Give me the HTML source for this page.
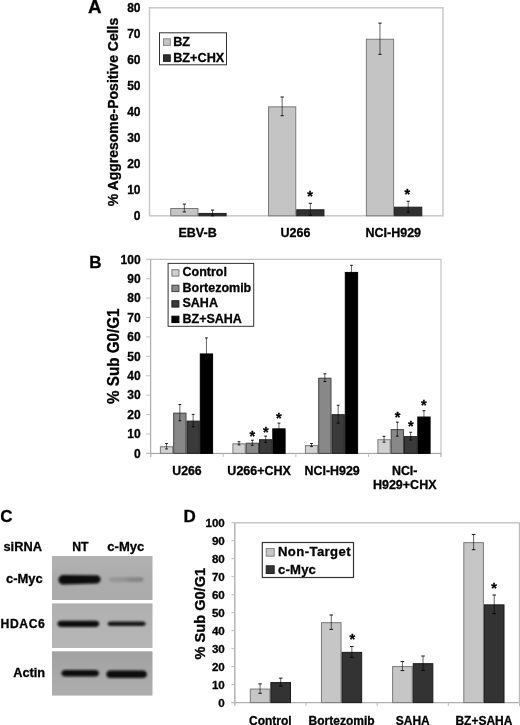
<!DOCTYPE html>
<html><head><meta charset="utf-8"><style>
html,body{margin:0;padding:0;background:#fff;overflow:hidden}
svg{display:block;will-change:transform}
text{stroke:#000;stroke-width:0.3px;paint-order:stroke}
</style></head><body>
<svg width="520" height="725" viewBox="0 0 520 725" font-family="Liberation Sans, sans-serif" font-weight="bold" fill="#000">
<rect width="520" height="725" fill="#fff"/>
<text x="88.0" y="12.6" font-size="18.8" text-anchor="start" >A</text>
<rect x="149.50" y="7.80" width="293.50" height="208.00" fill="none" stroke="#c9c9c9" stroke-width="1.5"/>
<text x="140.5" y="220.10000000000002" font-size="12" text-anchor="end" >0</text>
<text x="140.5" y="194.10000000000002" font-size="12" text-anchor="end" >10</text>
<text x="140.5" y="168.10000000000002" font-size="12" text-anchor="end" >20</text>
<text x="140.5" y="142.10000000000002" font-size="12" text-anchor="end" >30</text>
<text x="140.5" y="116.10000000000001" font-size="12" text-anchor="end" >40</text>
<text x="140.5" y="90.10000000000001" font-size="12" text-anchor="end" >50</text>
<text x="140.5" y="64.10000000000001" font-size="12" text-anchor="end" >60</text>
<text x="140.5" y="38.10000000000001" font-size="12" text-anchor="end" >70</text>
<text x="140.5" y="12.100000000000012" font-size="12" text-anchor="end" >80</text>
<rect x="170.72" y="208.50" width="27.20" height="7.30" fill="#c4c4c4" stroke="#7a7a7a" stroke-width="1"/>
<line x1="184.32" y1="204.10" x2="184.32" y2="211.90" stroke="#000" stroke-width="0.6"/>
<line x1="182.72" y1="204.10" x2="185.92" y2="204.10" stroke="#000" stroke-width="0.9"/>
<line x1="182.72" y1="211.90" x2="185.92" y2="211.90" stroke="#000" stroke-width="0.9"/>
<rect x="198.92" y="213.44" width="27.20" height="2.36" fill="#303030" stroke="#202020" stroke-width="1"/>
<line x1="212.52" y1="210.08" x2="212.52" y2="215.80" stroke="#000" stroke-width="0.6"/>
<line x1="210.92" y1="210.08" x2="214.12" y2="210.08" stroke="#000" stroke-width="0.9"/>
<line x1="210.92" y1="215.80" x2="214.12" y2="215.80" stroke="#000" stroke-width="0.9"/>
<rect x="268.55" y="106.84" width="27.20" height="108.96" fill="#c4c4c4" stroke="#7a7a7a" stroke-width="1"/>
<line x1="282.15" y1="96.98" x2="282.15" y2="115.70" stroke="#000" stroke-width="0.6"/>
<line x1="280.55" y1="96.98" x2="283.75" y2="96.98" stroke="#000" stroke-width="0.9"/>
<line x1="280.55" y1="115.70" x2="283.75" y2="115.70" stroke="#000" stroke-width="0.9"/>
<rect x="296.75" y="209.80" width="27.20" height="6.00" fill="#303030" stroke="#202020" stroke-width="1"/>
<line x1="310.35" y1="203.32" x2="310.35" y2="215.28" stroke="#000" stroke-width="0.6"/>
<line x1="308.75" y1="203.32" x2="311.95" y2="203.32" stroke="#000" stroke-width="0.9"/>
<line x1="308.75" y1="215.28" x2="311.95" y2="215.28" stroke="#000" stroke-width="0.9"/>
<rect x="366.38" y="39.24" width="27.20" height="176.56" fill="#c4c4c4" stroke="#7a7a7a" stroke-width="1"/>
<line x1="379.98" y1="23.14" x2="379.98" y2="54.34" stroke="#000" stroke-width="0.6"/>
<line x1="378.38" y1="23.14" x2="381.58" y2="23.14" stroke="#000" stroke-width="0.9"/>
<line x1="378.38" y1="54.34" x2="381.58" y2="54.34" stroke="#000" stroke-width="0.9"/>
<rect x="394.58" y="207.20" width="27.20" height="8.60" fill="#303030" stroke="#202020" stroke-width="1"/>
<line x1="408.18" y1="201.24" x2="408.18" y2="212.16" stroke="#000" stroke-width="0.6"/>
<line x1="406.58" y1="201.24" x2="409.78" y2="201.24" stroke="#000" stroke-width="0.9"/>
<line x1="406.58" y1="212.16" x2="409.78" y2="212.16" stroke="#000" stroke-width="0.9"/>
<text x="310.20" y="200.86" font-size="14.5" text-anchor="middle">*</text>
<text x="407.30" y="198.86" font-size="14.5" text-anchor="middle">*</text>
<rect x="159.50" y="32.80" width="67.00" height="32.00" fill="white" stroke="#333" stroke-width="1"/>
<rect x="163.50" y="38.80" width="6.80" height="6.60" fill="#c4c4c4" stroke="#888" stroke-width="1"/>
<rect x="163.50" y="54.80" width="6.80" height="6.60" fill="#303030" stroke="#222" stroke-width="1"/>
<text x="173.2" y="45.9" font-size="12.7" text-anchor="start" >BZ</text>
<text x="173.2" y="61.9" font-size="12.7" text-anchor="start" >BZ+CHX</text>
<text x="0" y="0" font-size="14" text-anchor="middle" transform="translate(117.8,112) rotate(-90)">% Aggresome-Positive Cells</text>
<text x="197.61666666666665" y="236.6" font-size="12.5" text-anchor="middle" >EBV-B</text>
<text x="295.45" y="236.6" font-size="12.5" text-anchor="middle" >U266</text>
<text x="393.2833333333333" y="236.6" font-size="12.5" text-anchor="middle" >NCI-H929</text>
<text x="89.2" y="268.1" font-size="17" text-anchor="start" >B</text>
<line x1="150.70" y1="259.30" x2="441.00" y2="259.30" stroke="#c4c4c4" stroke-width="1.2"/>
<line x1="441.00" y1="259.30" x2="441.00" y2="456.90" stroke="#c4c4c4" stroke-width="1.2"/>
<line x1="146.30" y1="453.40" x2="441.00" y2="453.40" stroke="#9a9a9a" stroke-width="1.0"/>
<line x1="150.70" y1="259.30" x2="150.70" y2="456.90" stroke="#9a9a9a" stroke-width="1.0"/>
<line x1="146.30" y1="453.40" x2="150.70" y2="453.40" stroke="#bdbdbd" stroke-width="1"/>
<text x="140.6" y="457.7" font-size="12" text-anchor="end" >0</text>
<line x1="146.30" y1="433.99" x2="150.70" y2="433.99" stroke="#bdbdbd" stroke-width="1"/>
<text x="140.6" y="438.29" font-size="12" text-anchor="end" >10</text>
<line x1="146.30" y1="414.58" x2="150.70" y2="414.58" stroke="#bdbdbd" stroke-width="1"/>
<text x="140.6" y="418.88" font-size="12" text-anchor="end" >20</text>
<line x1="146.30" y1="395.17" x2="150.70" y2="395.17" stroke="#bdbdbd" stroke-width="1"/>
<text x="140.6" y="399.46999999999997" font-size="12" text-anchor="end" >30</text>
<line x1="146.30" y1="375.76" x2="150.70" y2="375.76" stroke="#bdbdbd" stroke-width="1"/>
<text x="140.6" y="380.06" font-size="12" text-anchor="end" >40</text>
<line x1="146.30" y1="356.35" x2="150.70" y2="356.35" stroke="#bdbdbd" stroke-width="1"/>
<text x="140.6" y="360.65000000000003" font-size="12" text-anchor="end" >50</text>
<line x1="146.30" y1="336.94" x2="150.70" y2="336.94" stroke="#bdbdbd" stroke-width="1"/>
<text x="140.6" y="341.24" font-size="12" text-anchor="end" >60</text>
<line x1="146.30" y1="317.53" x2="150.70" y2="317.53" stroke="#bdbdbd" stroke-width="1"/>
<text x="140.6" y="321.83" font-size="12" text-anchor="end" >70</text>
<line x1="146.30" y1="298.12" x2="150.70" y2="298.12" stroke="#bdbdbd" stroke-width="1"/>
<text x="140.6" y="302.42" font-size="12" text-anchor="end" >80</text>
<line x1="146.30" y1="278.71" x2="150.70" y2="278.71" stroke="#bdbdbd" stroke-width="1"/>
<text x="140.6" y="283.01000000000005" font-size="12" text-anchor="end" >90</text>
<line x1="146.30" y1="259.30" x2="150.70" y2="259.30" stroke="#bdbdbd" stroke-width="1"/>
<text x="140.6" y="263.6" font-size="12" text-anchor="end" >100</text>
<line x1="150.70" y1="453.40" x2="150.70" y2="456.90" stroke="#bdbdbd" stroke-width="1"/>
<line x1="223.27" y1="453.40" x2="223.27" y2="456.90" stroke="#bdbdbd" stroke-width="1"/>
<line x1="295.85" y1="453.40" x2="295.85" y2="456.90" stroke="#bdbdbd" stroke-width="1"/>
<line x1="368.43" y1="453.40" x2="368.43" y2="456.90" stroke="#bdbdbd" stroke-width="1"/>
<line x1="441.00" y1="453.40" x2="441.00" y2="456.90" stroke="#bdbdbd" stroke-width="1"/>
<rect x="160.40" y="446.72" width="12.30" height="6.68" fill="#d0d0d0" stroke="#7a7a7a" stroke-width="1"/>
<line x1="166.55" y1="443.50" x2="166.55" y2="448.94" stroke="#000" stroke-width="0.6"/>
<line x1="165.15" y1="443.50" x2="167.95" y2="443.50" stroke="#000" stroke-width="0.9"/>
<line x1="165.15" y1="448.94" x2="167.95" y2="448.94" stroke="#000" stroke-width="0.9"/>
<rect x="173.70" y="413.14" width="12.30" height="40.26" fill="#888888" stroke="#444" stroke-width="1"/>
<line x1="179.85" y1="404.49" x2="179.85" y2="420.79" stroke="#000" stroke-width="0.6"/>
<line x1="178.45" y1="404.49" x2="181.25" y2="404.49" stroke="#000" stroke-width="0.9"/>
<line x1="178.45" y1="420.79" x2="181.25" y2="420.79" stroke="#000" stroke-width="0.9"/>
<rect x="187.00" y="421.10" width="12.30" height="32.30" fill="#3a3a3a" stroke="#222" stroke-width="1"/>
<line x1="193.15" y1="414.39" x2="193.15" y2="426.81" stroke="#000" stroke-width="0.6"/>
<line x1="191.75" y1="414.39" x2="194.55" y2="414.39" stroke="#000" stroke-width="0.9"/>
<line x1="191.75" y1="426.81" x2="194.55" y2="426.81" stroke="#000" stroke-width="0.9"/>
<rect x="200.30" y="353.94" width="12.30" height="99.46" fill="#000000" stroke="#000" stroke-width="1"/>
<line x1="206.45" y1="337.91" x2="206.45" y2="368.97" stroke="#000" stroke-width="0.6"/>
<line x1="205.05" y1="337.91" x2="207.85" y2="337.91" stroke="#000" stroke-width="0.9"/>
<line x1="205.05" y1="368.97" x2="207.85" y2="368.97" stroke="#000" stroke-width="0.9"/>
<rect x="232.90" y="443.81" width="12.30" height="9.59" fill="#d0d0d0" stroke="#7a7a7a" stroke-width="1"/>
<line x1="239.05" y1="441.75" x2="239.05" y2="444.86" stroke="#000" stroke-width="0.6"/>
<line x1="237.65" y1="441.75" x2="240.45" y2="441.75" stroke="#000" stroke-width="0.9"/>
<line x1="237.65" y1="444.86" x2="240.45" y2="444.86" stroke="#000" stroke-width="0.9"/>
<rect x="246.20" y="443.22" width="12.30" height="10.18" fill="#888888" stroke="#444" stroke-width="1"/>
<line x1="252.35" y1="440.20" x2="252.35" y2="445.25" stroke="#000" stroke-width="0.6"/>
<line x1="250.95" y1="440.20" x2="253.75" y2="440.20" stroke="#000" stroke-width="0.9"/>
<line x1="250.95" y1="445.25" x2="253.75" y2="445.25" stroke="#000" stroke-width="0.9"/>
<rect x="259.50" y="439.73" width="12.30" height="13.67" fill="#3a3a3a" stroke="#222" stroke-width="1"/>
<line x1="265.65" y1="436.13" x2="265.65" y2="442.34" stroke="#000" stroke-width="0.6"/>
<line x1="264.25" y1="436.13" x2="267.05" y2="436.13" stroke="#000" stroke-width="0.9"/>
<line x1="264.25" y1="442.34" x2="267.05" y2="442.34" stroke="#000" stroke-width="0.9"/>
<rect x="272.80" y="428.86" width="12.30" height="24.54" fill="#000000" stroke="#000" stroke-width="1"/>
<line x1="278.95" y1="423.12" x2="278.95" y2="433.60" stroke="#000" stroke-width="0.6"/>
<line x1="277.55" y1="423.12" x2="280.35" y2="423.12" stroke="#000" stroke-width="0.9"/>
<line x1="277.55" y1="433.60" x2="280.35" y2="433.60" stroke="#000" stroke-width="0.9"/>
<rect x="305.40" y="445.55" width="12.30" height="7.85" fill="#d0d0d0" stroke="#7a7a7a" stroke-width="1"/>
<line x1="311.55" y1="443.50" x2="311.55" y2="446.61" stroke="#000" stroke-width="0.6"/>
<line x1="310.15" y1="443.50" x2="312.95" y2="443.50" stroke="#000" stroke-width="0.9"/>
<line x1="310.15" y1="446.61" x2="312.95" y2="446.61" stroke="#000" stroke-width="0.9"/>
<rect x="318.70" y="378.20" width="12.30" height="75.20" fill="#888888" stroke="#444" stroke-width="1"/>
<line x1="324.85" y1="373.82" x2="324.85" y2="381.58" stroke="#000" stroke-width="0.6"/>
<line x1="323.45" y1="373.82" x2="326.25" y2="373.82" stroke="#000" stroke-width="0.9"/>
<line x1="323.45" y1="381.58" x2="326.25" y2="381.58" stroke="#000" stroke-width="0.9"/>
<rect x="332.00" y="414.69" width="12.30" height="38.71" fill="#3a3a3a" stroke="#222" stroke-width="1"/>
<line x1="338.15" y1="405.26" x2="338.15" y2="423.12" stroke="#000" stroke-width="0.6"/>
<line x1="336.75" y1="405.26" x2="339.55" y2="405.26" stroke="#000" stroke-width="0.9"/>
<line x1="336.75" y1="423.12" x2="339.55" y2="423.12" stroke="#000" stroke-width="0.9"/>
<rect x="345.30" y="272.42" width="12.30" height="180.98" fill="#000000" stroke="#000" stroke-width="1"/>
<line x1="351.45" y1="265.32" x2="351.45" y2="278.52" stroke="#000" stroke-width="0.6"/>
<line x1="350.05" y1="265.32" x2="352.85" y2="265.32" stroke="#000" stroke-width="0.9"/>
<line x1="350.05" y1="278.52" x2="352.85" y2="278.52" stroke="#000" stroke-width="0.9"/>
<rect x="377.90" y="439.73" width="12.30" height="13.67" fill="#d0d0d0" stroke="#7a7a7a" stroke-width="1"/>
<line x1="384.05" y1="436.32" x2="384.05" y2="442.14" stroke="#000" stroke-width="0.6"/>
<line x1="382.65" y1="436.32" x2="385.45" y2="436.32" stroke="#000" stroke-width="0.9"/>
<line x1="382.65" y1="442.14" x2="385.45" y2="442.14" stroke="#000" stroke-width="0.9"/>
<rect x="391.20" y="429.64" width="12.30" height="23.76" fill="#888888" stroke="#444" stroke-width="1"/>
<line x1="397.35" y1="422.15" x2="397.35" y2="436.13" stroke="#000" stroke-width="0.6"/>
<line x1="395.95" y1="422.15" x2="398.75" y2="422.15" stroke="#000" stroke-width="0.9"/>
<line x1="395.95" y1="436.13" x2="398.75" y2="436.13" stroke="#000" stroke-width="0.9"/>
<rect x="404.50" y="436.63" width="12.30" height="16.77" fill="#3a3a3a" stroke="#222" stroke-width="1"/>
<line x1="410.65" y1="432.24" x2="410.65" y2="440.01" stroke="#000" stroke-width="0.6"/>
<line x1="409.25" y1="432.24" x2="412.05" y2="432.24" stroke="#000" stroke-width="0.9"/>
<line x1="409.25" y1="440.01" x2="412.05" y2="440.01" stroke="#000" stroke-width="0.9"/>
<rect x="417.80" y="417.02" width="12.30" height="36.38" fill="#000000" stroke="#000" stroke-width="1"/>
<line x1="423.95" y1="410.70" x2="423.95" y2="422.34" stroke="#000" stroke-width="0.6"/>
<line x1="422.55" y1="410.70" x2="425.35" y2="410.70" stroke="#000" stroke-width="0.9"/>
<line x1="422.55" y1="422.34" x2="425.35" y2="422.34" stroke="#000" stroke-width="0.9"/>
<text x="252.30" y="440.96" font-size="14.5" text-anchor="middle">*</text>
<text x="265.80" y="437.26" font-size="14.5" text-anchor="middle">*</text>
<text x="278.80" y="423.26" font-size="14.5" text-anchor="middle">*</text>
<text x="397.60" y="422.16" font-size="14.5" text-anchor="middle">*</text>
<text x="410.80" y="431.36" font-size="14.5" text-anchor="middle">*</text>
<text x="423.80" y="410.06" font-size="14.5" text-anchor="middle">*</text>
<rect x="168.10" y="263.40" width="85.60" height="62.90" fill="white" stroke="#333" stroke-width="1"/>
<rect x="171.90" y="269.70" width="7.00" height="6.40" fill="#d0d0d0" stroke="#7a7a7a" stroke-width="1"/>
<text x="182.5" y="276.3" font-size="12.5" text-anchor="start" >Control</text>
<rect x="171.90" y="285.20" width="7.00" height="6.40" fill="#888888" stroke="#444" stroke-width="1"/>
<text x="182.5" y="291.8" font-size="12.5" text-anchor="start" >Bortezomib</text>
<rect x="171.90" y="300.70" width="7.00" height="6.40" fill="#3a3a3a" stroke="#222" stroke-width="1"/>
<text x="182.5" y="307.3" font-size="12.5" text-anchor="start" >SAHA</text>
<rect x="171.90" y="316.20" width="7.00" height="6.40" fill="#000000" stroke="#000" stroke-width="1"/>
<text x="182.5" y="322.8" font-size="12.5" text-anchor="start" >BZ+SAHA</text>
<text x="0" y="0" font-size="15.2" text-anchor="middle" transform="translate(118.5,356.2) rotate(-90) scale(1,1.05)">% Sub G0/G1</text>
<text x="186.98749999999998" y="474.6" font-size="12.3" text-anchor="middle" >U266</text>
<text x="259.1625" y="474.6" font-size="12.5" text-anchor="middle" >U266+CHX</text>
<text x="332.1375" y="474.6" font-size="12.4" text-anchor="middle" >NCI-H929</text>
<text x="404.7125" y="474.6" font-size="12.4" text-anchor="middle" >NCI-</text>
<text x="404.7125" y="488.8" font-size="12.5" text-anchor="middle" >H929+CHX</text>
<text x="0.2" y="521.6" font-size="17" text-anchor="start" >C</text>
<text x="3.5" y="551.3" font-size="12.8" text-anchor="start" >siRNA</text>
<text x="80.3" y="551.4" font-size="12.2" text-anchor="middle" >NT</text>
<text x="125.8" y="551.4" font-size="13" text-anchor="middle" >c-Myc</text>
<defs><filter id="blur1" x="-20%" y="-60%" width="140%" height="220%"><feGaussianBlur stdDeviation="0.85"/></filter><filter id="blur2" x="-20%" y="-60%" width="140%" height="220%"><feGaussianBlur stdDeviation="1.1"/></filter><linearGradient id="g1" x1="0" y1="0" x2="0" y2="1"><stop offset="0" stop-color="#b2b2b2"/><stop offset="0.5" stop-color="#acacac"/><stop offset="1" stop-color="#aaaaaa"/></linearGradient><linearGradient id="g2" x1="0" y1="0" x2="0" y2="1"><stop offset="0" stop-color="#afafaf"/><stop offset="0.6" stop-color="#b4b4b4"/><stop offset="1" stop-color="#b6b6b6"/></linearGradient><linearGradient id="g3" x1="0" y1="0" x2="0" y2="1"><stop offset="0" stop-color="#a2a2a2"/><stop offset="0.5" stop-color="#a8a8a8"/><stop offset="1" stop-color="#aeaeae"/></linearGradient><linearGradient id="fb" x1="0" y1="0" x2="1" y2="0"><stop offset="0" stop-color="#989898"/><stop offset="0.45" stop-color="#939393"/><stop offset="0.6" stop-color="#878787"/><stop offset="1" stop-color="#838383"/></linearGradient></defs>
<rect x="52.00" y="556.00" width="100.50" height="44.00" fill="url(#g1)"/>
<rect x="52.00" y="603.40" width="100.50" height="44.60" fill="url(#g2)"/>
<rect x="52.00" y="651.30" width="100.50" height="44.30" fill="url(#g3)"/>
<path d="M63.2,575.0 L96.4,575.2 A4.2,4.2 0 0 1 96.4,583.6 L63.2,584.6 A4.8,4.8 0 0 1 63.2,575.0 Z" fill="#0a0a0a" filter="url(#blur1)"/>
<rect x="109" y="577.3000000000001" width="34.5" height="4.6" rx="4" ry="2.3" fill="url(#fb)" filter="url(#blur2)"/>
<rect x="57.5" y="620.65" width="41.7" height="6.3" rx="4" ry="3.15" fill="#0e0e0e" filter="url(#blur1)"/>
<rect x="107.6" y="621.5" width="38.0" height="4.6" rx="4" ry="2.3" fill="#181818" filter="url(#blur1)"/>
<rect x="61.5" y="670.0" width="37.400000000000006" height="6.6" rx="4" ry="3.3" fill="#0d0d0d" filter="url(#blur1)"/>
<rect x="106.4" y="670.4000000000001" width="40.400000000000006" height="7.6" rx="4" ry="3.8" fill="#0b0b0b" filter="url(#blur1)"/>
<text x="42.8" y="583.1" font-size="13" text-anchor="end" >c-Myc</text>
<text x="44.8" y="628.2" font-size="12.2" text-anchor="end" textLength="44.2" lengthAdjust="spacing">HDAC6</text>
<text x="45.2" y="676.7" font-size="12.8" text-anchor="end" >Actin</text>
<text x="183.6" y="521.7" font-size="17" text-anchor="start" >D</text>
<line x1="234.80" y1="522.70" x2="519.50" y2="522.70" stroke="#c6c6c6" stroke-width="1.4"/>
<line x1="519.50" y1="522.70" x2="519.50" y2="702.60" stroke="#bdbdbd" stroke-width="1.4"/>
<line x1="231.40" y1="702.60" x2="519.50" y2="702.60" stroke="#b0b0b0" stroke-width="1.4"/>
<line x1="234.80" y1="522.70" x2="234.80" y2="704.60" stroke="#b0b0b0" stroke-width="1.4"/>
<line x1="231.40" y1="702.60" x2="234.80" y2="702.60" stroke="#bdbdbd" stroke-width="1"/>
<text x="224.8" y="706.7" font-size="11.6" text-anchor="end" >0</text>
<line x1="231.40" y1="684.61" x2="234.80" y2="684.61" stroke="#bdbdbd" stroke-width="1"/>
<text x="224.8" y="688.71" font-size="11.6" text-anchor="end" >10</text>
<line x1="231.40" y1="666.62" x2="234.80" y2="666.62" stroke="#bdbdbd" stroke-width="1"/>
<text x="224.8" y="670.72" font-size="11.6" text-anchor="end" >20</text>
<line x1="231.40" y1="648.63" x2="234.80" y2="648.63" stroke="#bdbdbd" stroke-width="1"/>
<text x="224.8" y="652.73" font-size="11.6" text-anchor="end" >30</text>
<line x1="231.40" y1="630.64" x2="234.80" y2="630.64" stroke="#bdbdbd" stroke-width="1"/>
<text x="224.8" y="634.74" font-size="11.6" text-anchor="end" >40</text>
<line x1="231.40" y1="612.65" x2="234.80" y2="612.65" stroke="#bdbdbd" stroke-width="1"/>
<text x="224.8" y="616.7500000000001" font-size="11.6" text-anchor="end" >50</text>
<line x1="231.40" y1="594.66" x2="234.80" y2="594.66" stroke="#bdbdbd" stroke-width="1"/>
<text x="224.8" y="598.7600000000001" font-size="11.6" text-anchor="end" >60</text>
<line x1="231.40" y1="576.67" x2="234.80" y2="576.67" stroke="#bdbdbd" stroke-width="1"/>
<text x="224.8" y="580.7700000000001" font-size="11.6" text-anchor="end" >70</text>
<line x1="231.40" y1="558.68" x2="234.80" y2="558.68" stroke="#bdbdbd" stroke-width="1"/>
<text x="224.8" y="562.7800000000001" font-size="11.6" text-anchor="end" >80</text>
<line x1="231.40" y1="540.69" x2="234.80" y2="540.69" stroke="#bdbdbd" stroke-width="1"/>
<text x="224.8" y="544.7900000000001" font-size="11.6" text-anchor="end" >90</text>
<line x1="231.40" y1="522.70" x2="234.80" y2="522.70" stroke="#bdbdbd" stroke-width="1"/>
<text x="224.8" y="526.8000000000001" font-size="11.6" text-anchor="end" >100</text>
<line x1="234.80" y1="702.60" x2="234.80" y2="706.10" stroke="#bdbdbd" stroke-width="1"/>
<line x1="305.98" y1="702.60" x2="305.98" y2="706.10" stroke="#bdbdbd" stroke-width="1"/>
<line x1="377.15" y1="702.60" x2="377.15" y2="706.10" stroke="#bdbdbd" stroke-width="1"/>
<line x1="448.32" y1="702.60" x2="448.32" y2="706.10" stroke="#bdbdbd" stroke-width="1"/>
<line x1="519.50" y1="702.60" x2="519.50" y2="706.10" stroke="#bdbdbd" stroke-width="1"/>
<rect x="250.29" y="689.07" width="19.60" height="13.53" fill="#c6c6c6" stroke="#7a7a7a" stroke-width="1"/>
<line x1="260.09" y1="683.89" x2="260.09" y2="693.25" stroke="#000" stroke-width="0.6"/>
<line x1="258.29" y1="683.89" x2="261.89" y2="683.89" stroke="#000" stroke-width="0.9"/>
<line x1="258.29" y1="693.25" x2="261.89" y2="693.25" stroke="#000" stroke-width="0.9"/>
<rect x="270.89" y="682.59" width="19.60" height="20.01" fill="#333333" stroke="#1a1a1a" stroke-width="1"/>
<line x1="280.69" y1="678.13" x2="280.69" y2="686.05" stroke="#000" stroke-width="0.6"/>
<line x1="278.89" y1="678.13" x2="282.49" y2="678.13" stroke="#000" stroke-width="0.9"/>
<line x1="278.89" y1="686.05" x2="282.49" y2="686.05" stroke="#000" stroke-width="0.9"/>
<rect x="321.46" y="622.68" width="19.60" height="79.92" fill="#c6c6c6" stroke="#7a7a7a" stroke-width="1"/>
<line x1="331.26" y1="614.99" x2="331.26" y2="629.38" stroke="#000" stroke-width="0.6"/>
<line x1="329.46" y1="614.99" x2="333.06" y2="614.99" stroke="#000" stroke-width="0.9"/>
<line x1="329.46" y1="629.38" x2="333.06" y2="629.38" stroke="#000" stroke-width="0.9"/>
<rect x="342.06" y="652.37" width="19.60" height="50.23" fill="#333333" stroke="#1a1a1a" stroke-width="1"/>
<line x1="351.86" y1="646.47" x2="351.86" y2="657.27" stroke="#000" stroke-width="0.6"/>
<line x1="350.06" y1="646.47" x2="353.66" y2="646.47" stroke="#000" stroke-width="0.9"/>
<line x1="350.06" y1="657.27" x2="353.66" y2="657.27" stroke="#000" stroke-width="0.9"/>
<rect x="392.64" y="666.58" width="19.60" height="36.02" fill="#c6c6c6" stroke="#7a7a7a" stroke-width="1"/>
<line x1="402.44" y1="661.58" x2="402.44" y2="670.58" stroke="#000" stroke-width="0.6"/>
<line x1="400.64" y1="661.58" x2="404.24" y2="661.58" stroke="#000" stroke-width="0.9"/>
<line x1="400.64" y1="670.58" x2="404.24" y2="670.58" stroke="#000" stroke-width="0.9"/>
<rect x="413.24" y="663.70" width="19.60" height="38.90" fill="#333333" stroke="#1a1a1a" stroke-width="1"/>
<line x1="423.04" y1="656.01" x2="423.04" y2="670.40" stroke="#000" stroke-width="0.6"/>
<line x1="421.24" y1="656.01" x2="424.84" y2="656.01" stroke="#000" stroke-width="0.9"/>
<line x1="421.24" y1="670.40" x2="424.84" y2="670.40" stroke="#000" stroke-width="0.9"/>
<rect x="463.81" y="542.63" width="19.60" height="159.97" fill="#c6c6c6" stroke="#7a7a7a" stroke-width="1"/>
<line x1="473.61" y1="534.57" x2="473.61" y2="549.69" stroke="#000" stroke-width="0.6"/>
<line x1="471.81" y1="534.57" x2="475.41" y2="534.57" stroke="#000" stroke-width="0.9"/>
<line x1="471.81" y1="549.69" x2="475.41" y2="549.69" stroke="#000" stroke-width="0.9"/>
<rect x="484.41" y="604.87" width="19.60" height="97.73" fill="#333333" stroke="#1a1a1a" stroke-width="1"/>
<line x1="494.21" y1="595.02" x2="494.21" y2="613.73" stroke="#000" stroke-width="0.6"/>
<line x1="492.41" y1="595.02" x2="496.01" y2="595.02" stroke="#000" stroke-width="0.9"/>
<line x1="492.41" y1="613.73" x2="496.01" y2="613.73" stroke="#000" stroke-width="0.9"/>
<text x="352.40" y="643.96" font-size="14.5" text-anchor="middle">*</text>
<text x="494.00" y="592.96" font-size="14.5" text-anchor="middle">*</text>
<rect x="262.30" y="542.50" width="91.20" height="35.00" fill="white" stroke="#333" stroke-width="1.2"/>
<rect x="266.20" y="548.50" width="8.00" height="7.70" fill="#c6c6c6" stroke="#888" stroke-width="1"/>
<rect x="266.20" y="565.80" width="8.00" height="7.70" fill="#333333" stroke="#222" stroke-width="1"/>
<text x="278.0" y="556.4" font-size="13.1" text-anchor="start" textLength="72.6" lengthAdjust="spacing">Non-Target</text>
<text x="278.0" y="573.6" font-size="13.1" text-anchor="start" textLength="37.9" lengthAdjust="spacing">c-Myc</text>
<text x="0" y="0" font-size="14.6" text-anchor="middle" transform="translate(204.5,613.7) rotate(-90) scale(1,1.06)">% Sub G0/G1</text>
<text x="270.3875" y="724.9" font-size="12" text-anchor="middle" >Control</text>
<text x="341.5625" y="724.9" font-size="12" text-anchor="middle" >Bortezomib</text>
<text x="412.7375" y="724.9" font-size="12" text-anchor="middle" >SAHA</text>
<text x="483.9125" y="724.9" font-size="12" text-anchor="middle" >BZ+SAHA</text>
</svg>
</body></html>
